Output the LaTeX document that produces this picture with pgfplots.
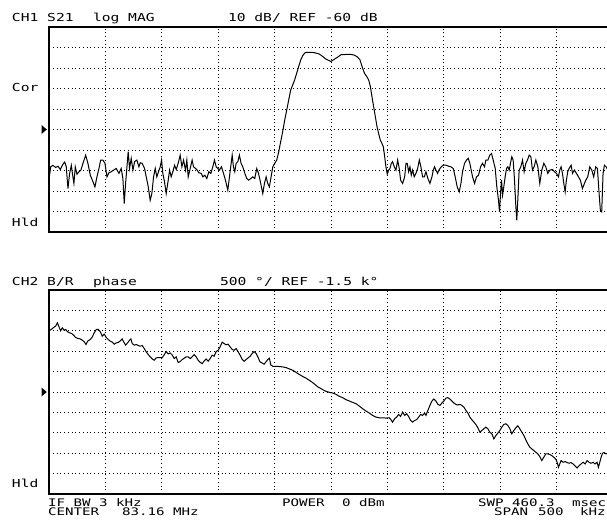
\documentclass[border=0pt]{standalone}
\usepackage{pgfplots}
\pgfplotsset{compat=1.18}
\usepackage{fontspec}
\newfontfamily\hpA{DejaVu Sans Mono}[FakeStretch=1.33]
\newfontfamily\hpB{DejaVu Sans Mono}[FakeStretch=1.36]
\pgfplotsset{hpaxis/.style={
  scale only axis, width=558pt, xmin=-250, xmax=244.7,
  xtick={-200,-150,...,200}, xticklabels={}, yticklabels={},
  major tick length=0pt,
  grid=major,
  major grid style={black, line width=0.85pt, dash pattern=on 0.85pt off 2.9pt},
  axis line style={draw=none},
  clip=true,
  extra description/.code={\draw[black, line width=1.2pt] (1,0) -- (0,0) -- (0,1) -- (1,1);},
}}
\begin{document}
\begin{tikzpicture}
\path[use as bounding box] (0pt,0pt) rectangle (607pt,-525pt);
\clip (0pt,0pt) rectangle (607pt,-525pt);
\begin{axis}[hpaxis, at={(49pt,-232pt)}, anchor=south west, height=205pt,
  ymin=-110, ymax=-10, ytick={-100,-90,...,-20}]
\addplot[black, line width=1pt] coordinates {
(-250,-84.4)(-248.5,-78.2)(-246.5,-77.5)(-244.1,-78.5)(-242,-77.9)(-240,-79.5)(-237.6,-76.9)(-236.1,-75.9)(-234.7,-78.2)(-233.2,-88.8)(-231.7,-81.4)(-230.2,-77.5)(-228.8,-83.1)(-227.9,-86.3)(-226.7,-78.2)(-225.2,-81.8)(-223.4,-80.6)(-221.7,-79.8)(-219.9,-76.5)(-217.5,-72.5)(-215.5,-76.5)(-213.4,-82.3)(-211,-85.5)(-209.3,-88)(-207.5,-83.1)(-205.7,-79)(-204.2,-74.9)(-202.2,-74.9)(-200.4,-76.5)(-198.6,-83.1)(-196.9,-81.1)(-194.8,-80.6)(-192.7,-79.8)(-190.4,-79)(-188,-81.4)(-186,-79)(-184.5,-83.9)(-183.3,-96.1)(-182.1,-86.3)(-180.9,-78.2)(-179.8,-70.8)(-178.6,-79)(-177.1,-74.1)(-175.6,-79.8)(-174.1,-75.7)(-172.1,-74.9)(-170.3,-78.2)(-169.1,-76.2)(-167.4,-76.5)(-165.3,-79)(-163.8,-83.1)(-162,-88)(-160.3,-94.5)(-158.8,-91.2)(-157.3,-83.1)(-155.8,-79)(-154.4,-83.1)(-152.9,-80.6)(-151.4,-78.2)(-150.2,-74.9)(-149.1,-81.4)(-147.6,-85.5)(-146.1,-91.2)(-144.3,-84.7)(-143.1,-79.8)(-141.7,-83.1)(-140.2,-80.6)(-138.7,-77.4)(-137.2,-79.5)(-135.5,-76.5)(-133.7,-72.5)(-132.2,-78.2)(-130.7,-74.9)(-129,-79.8)(-127.8,-74.9)(-126.6,-83.1)(-124.8,-79)(-123.1,-74.9)(-121.9,-78.2)(-120.1,-79)(-118.6,-79.8)(-117.2,-81.1)(-115.1,-81.4)(-113.6,-83.1)(-111.9,-82.3)(-110.1,-83.9)(-108.3,-80.6)(-106.5,-81.4)(-104.8,-78.2)(-103.3,-74.9)(-101.8,-78.2)(-100.3,-79)(-98.9,-79.8)(-97.1,-78.2)(-95.3,-81.4)(-93.6,-84.7)(-91.5,-89.6)(-90,-83.1)(-88.5,-76.5)(-87.6,-72.5)(-86.5,-78.2)(-85.3,-80.6)(-84.1,-76.5)(-82.6,-75.7)(-81.2,-72.5)(-79.7,-76.5)(-78.2,-78.2)(-76.4,-81.4)(-74.7,-83.9)(-72.9,-84.7)(-71.1,-83.9)(-69.3,-83.1)(-67.6,-83.9)(-65.8,-79)(-64.3,-81.4)(-62.9,-84.7)(-61.7,-88)(-60.5,-91.2)(-59,-86.3)(-57.5,-83.1)(-56.1,-86.3)(-54.6,-88)(-53.1,-83.1)(-51.6,-78.2)(-49.9,-76.5)(-48.1,-74.9)(-46.3,-70.8)(-44.6,-65.9)(-42.8,-61)(-41,-55.3)(-39.2,-50.4)(-37.5,-45.6)(-35.7,-40.7)(-33.9,-38.2)(-32.2,-35.8)(-30.4,-32.5)(-28.6,-29.2)(-26.8,-26)(-25.1,-24)(-23.3,-22.7)(-22.1,-22.4)(-19.2,-22.4)(-16.2,-22.4)(-13.3,-22.7)(-10.3,-23.2)(-7.3,-24.4)(-4.4,-25.7)(0,-26.8)(3,-25.7)(5.9,-24.7)(8.9,-23.5)(13.3,-23.4)(17.7,-23.4)(20.7,-23.7)(23.6,-24.7)(25.7,-26)(27.5,-29.2)(29.6,-32.5)(31.6,-34.1)(33.4,-35.8)(34.9,-39)(36.3,-43.9)(37.8,-48.8)(39.3,-53.7)(40.8,-58.6)(42.2,-61.9)(43.7,-65.1)(45.2,-66.8)(46.4,-68.4)(47.6,-73.3)(48.7,-78.2)(49.9,-81.8)(51.1,-79.8)(52.3,-79)(53.5,-76.5)(54.6,-75.7)(56.1,-78.2)(57.6,-79.8)(59.1,-74.9)(60.5,-79)(61.7,-84.7)(63.5,-86.3)(65.3,-83.1)(66.5,-76.5)(67.6,-76.5)(68.8,-80.6)(70,-78.2)(71.2,-82.3)(72.4,-79.8)(73.8,-83.1)(75.3,-81.4)(76.8,-79)(78.3,-74.9)(79.7,-78.2)(81.2,-83.1)(82.7,-83.1)(84.2,-80.6)(85.9,-83.9)(87.7,-86.3)(89.5,-83.1)(90.7,-79.8)(91.8,-78.2)(93,-79.8)(94.5,-81.4)(96,-79.5)(97.7,-78.2)(99.5,-77.4)(101.9,-77.4)(104.2,-77.9)(106.3,-78.2)(108.4,-79)(110.1,-83.1)(111.9,-88)(113.7,-90.4)(115.2,-86.3)(116.6,-80.6)(118.4,-76.5)(120.2,-74.9)(121.7,-74.1)(123.1,-76.5)(124.3,-79.8)(125.5,-83.1)(127.3,-86.3)(129,-83.1)(130.8,-82.3)(132.6,-78.2)(134.3,-76.5)(136.1,-78.2)(137.3,-74.9)(139.1,-74.9)(140.8,-72.5)(142.3,-71.7)(143.8,-74.9)(145.6,-79)(147,-88)(148.5,-94.5)(149.4,-100.2)(150.3,-91.2)(151.2,-84.7)(152.1,-92)(153.2,-88)(154.4,-83.1)(155.6,-79)(156.8,-78.2)(158,-79.8)(159.1,-76.5)(160.3,-73.3)(161.5,-74.9)(162.7,-84.7)(163.9,-97.8)(164.7,-104.3)(165.6,-94.5)(166.8,-79.8)(168.3,-78.2)(169.8,-74.9)(171.2,-80.6)(172.7,-76.5)(174.2,-74.9)(175.7,-72.5)(177.2,-73.3)(178.6,-79.8)(180.1,-78.2)(181.6,-74.9)(183.4,-78.2)(185.1,-86.3)(186.9,-79.8)(188.7,-76.5)(190.4,-78.2)(192.2,-81.4)(194,-79.8)(196.3,-79.5)(198.1,-80.6)(199.9,-81.4)(201.7,-83.1)(202.8,-79.8)(204,-78.2)(205.2,-81.4)(206.4,-86.3)(207.6,-90.4)(208.7,-84.7)(209.9,-80.6)(211.1,-79)(212.9,-77.4)(214.1,-81.4)(215.8,-79.8)(217.6,-81.4)(219.4,-83.1)(221.1,-84.7)(222.9,-88.8)(224.7,-86.3)(225.9,-84.7)(227.6,-83.1)(229.4,-78.2)(231.2,-79.8)(232.9,-83.1)(234.7,-78.2)(236.2,-79)(237.7,-91.2)(238.8,-99.4)(240,-100.2)(241.2,-81.4)(242.4,-77.4)(243.9,-78.2)(246,-80.5)
};
\end{axis}
\begin{axis}[hpaxis, at={(49pt,-494pt)}, anchor=south west, height=204pt,
  ymin=-4000, ymax=1000, ytick={-3500,-3000,...,500}]
\addplot[black, line width=1pt] coordinates {
(-250,0)(-248,33)(-245.9,82)(-244.1,115)(-242.6,197)(-241.1,98)(-239.7,0)(-238.2,74)(-236.7,16)(-235.2,33)(-233.5,-25)(-231.7,-49)(-229.9,-66)(-228.2,-106)(-226.4,-164)(-224.3,-189)(-222.3,-197)(-220.5,-230)(-218.7,-270)(-217.2,-336)(-215.5,-246)(-213.4,-213)(-211.6,-148)(-209.9,-49)(-208.1,33)(-206.3,33)(-204.5,-25)(-202.8,-131)(-201,-82)(-199.2,-164)(-197.5,-213)(-195.7,-254)(-193.9,-279)(-192.2,-328)(-190.4,-295)(-188.6,-287)(-186.8,-246)(-185.1,-197)(-183.3,-295)(-182.1,-352)(-180.3,-295)(-178.6,-230)(-177.4,-197)(-176.2,-312)(-174.4,-352)(-172.7,-336)(-170.9,-361)(-169.1,-377)(-167.3,-361)(-165.6,-434)(-163.8,-516)(-162,-582)(-160.3,-639)(-158.5,-688)(-156.7,-721)(-155,-664)(-153.2,-656)(-151.4,-656)(-149.6,-656)(-147.9,-590)(-146.1,-508)(-144.3,-566)(-142.6,-541)(-140.8,-590)(-139,-680)(-137.2,-639)(-135.5,-779)(-133.7,-754)(-131.9,-705)(-130.2,-672)(-128.4,-639)(-126.6,-639)(-124.8,-680)(-123.1,-639)(-121.3,-582)(-119.5,-639)(-117.8,-721)(-116,-771)(-114.2,-804)(-112.4,-738)(-110.7,-688)(-108.9,-746)(-107.1,-680)(-105.4,-598)(-103.6,-623)(-101.8,-508)(-100,-475)(-98.3,-394)(-96.5,-279)(-94.7,-312)(-93,-344)(-91.2,-328)(-89.4,-394)(-87.6,-459)(-85.9,-475)(-84.1,-434)(-82.3,-516)(-80.6,-598)(-78.8,-697)(-77,-746)(-75.3,-705)(-73.5,-664)(-71.7,-623)(-69.9,-557)(-68.2,-508)(-66.4,-557)(-64.6,-656)(-62.9,-762)(-61.1,-787)(-59.3,-820)(-57.5,-754)(-55.8,-697)(-54.6,-672)(-53.4,-836)(-51.6,-869)(-49.9,-869)(-48.1,-869)(-45.7,-877)(-42.8,-885)(-39.8,-902)(-36.9,-934)(-33.9,-967)(-31.2,-1016)(-28.3,-1066)(-25.3,-1115)(-22.4,-1156)(-19.2,-1213)(-16.2,-1270)(-13.3,-1336)(-11.5,-1377)(-10.3,-1394)(-7.3,-1443)(-4.4,-1484)(-1.4,-1508)(1.5,-1525)(4.5,-1557)(7.4,-1607)(10.4,-1639)(13.3,-1688)(16.3,-1721)(19.2,-1754)(22.2,-1787)(25.1,-1844)(28.1,-1910)(31,-1967)(34,-2016)(36.9,-2074)(39.9,-2115)(42.8,-2131)(45.8,-2131)(48.7,-2139)(51.7,-2131)(53.2,-2180)(54.6,-2238)(56.4,-2156)(58.2,-2115)(60,-2049)(61.7,-2098)(63.5,-1992)(65.3,-2074)(67,-2033)(68.8,-2098)(70.6,-2197)(72.4,-2238)(74.1,-2197)(75.9,-2180)(77.7,-2115)(79.4,-2049)(81.2,-2074)(83,-2016)(84.2,-2074)(85.9,-1951)(87.7,-1828)(89.5,-1721)(91.2,-1672)(93,-1721)(94.8,-1803)(96.6,-1828)(98.3,-1770)(100.1,-1721)(101.9,-1648)(103.6,-1639)(105.4,-1672)(107.2,-1721)(109,-1770)(110.7,-1803)(112.5,-1820)(114.3,-1803)(116,-1828)(117.8,-1869)(119.6,-1951)(121.4,-2016)(123.1,-2115)(124.9,-2180)(126.7,-2238)(128.4,-2295)(130.2,-2377)(132,-2484)(133.8,-2443)(135.5,-2402)(137.3,-2361)(139.1,-2402)(140.8,-2484)(142.6,-2525)(144.4,-2648)(146.2,-2566)(147.9,-2508)(149.7,-2443)(151.5,-2361)(153.2,-2295)(155,-2279)(156.8,-2320)(158.6,-2402)(160.3,-2525)(162.1,-2443)(163.9,-2377)(165.6,-2328)(167.4,-2402)(169.2,-2484)(171,-2566)(172.7,-2672)(174.5,-2771)(176.3,-2853)(178,-2894)(179.8,-2935)(181.6,-2976)(183.4,-3017)(185.1,-3082)(186.9,-3180)(188.7,-3098)(190.4,-3017)(192.2,-3017)(194,-3033)(195.7,-3058)(197.5,-3098)(199.3,-3148)(200.5,-3222)(201.7,-3345)(202.8,-3263)(204,-3180)(205.8,-3222)(207.6,-3205)(209.3,-3230)(211.1,-3246)(212.9,-3230)(214.6,-3263)(216.4,-3312)(218.2,-3361)(220,-3303)(221.7,-3263)(223.5,-3222)(225.3,-3263)(227,-3180)(228.8,-3222)(230.6,-3246)(232.4,-3222)(234.1,-3263)(235.9,-3222)(237.1,-3345)(238.3,-3222)(239.5,-3098)(240.7,-3000)(242.1,-2984)(243.9,-3017)(246,-3000)
};
\end{axis}
% reference markers
\fill[black] (41.5pt,-125pt) -- (46.8pt,-129.5pt) -- (41.5pt,-134pt) -- cycle;
\fill[black] (41.5pt,-387.5pt) -- (46.8pt,-392pt) -- (41.5pt,-396.5pt) -- cycle;
% annotations
\tikzset{hp/.style={anchor=base west, inner sep=0pt, outer sep=0pt, font=\hpA\fontsize{11}{11}\selectfont}}
\tikzset{hpf/.style={anchor=base west, inner sep=0pt, outer sep=0pt, font=\hpB\fontsize{10.4}{10.4}\selectfont}}
\node[hp] at (12pt,-21pt) {CH1 S21};
\node[hp] at (93pt,-21pt) {log MAG};
\node[hp] at (228pt,-21pt) {10 dB/ REF -60 dB};
\node[hp] at (12pt,-285pt) {CH2 B/R};
\node[hp] at (93pt,-285pt) {phase};
\node[hp] at (220pt,-285pt) {500 °/ REF -1.5 k°};
\node[hp] at (12pt,-91pt) {Cor};
\node[hp] at (12pt,-226pt) {Hld};
\node[hp] at (12pt,-487.5pt) {Hld};
\node[hpf] at (48pt,-506pt) {IF BW 3 kHz};
\node[hpf] at (48pt,-515.5pt) {CENTER};
\node[hpf] at (122pt,-515.5pt) {83.16 MHz};
\node[hpf] at (282pt,-506pt) {POWER};
\node[hpf] at (342pt,-506pt) {0 dBm};
\node[hpf] at (478pt,-506pt) {SWP};
\node[hpf] at (512pt,-506pt) {460.3};
\node[hpf] at (572pt,-506pt) {msec};
\node[hpf] at (494pt,-515.5pt) {SPAN};
\node[hpf] at (538pt,-515.5pt) {500};
\node[hpf] at (580pt,-515.5pt) {kHz};
\end{tikzpicture}
\end{document}
